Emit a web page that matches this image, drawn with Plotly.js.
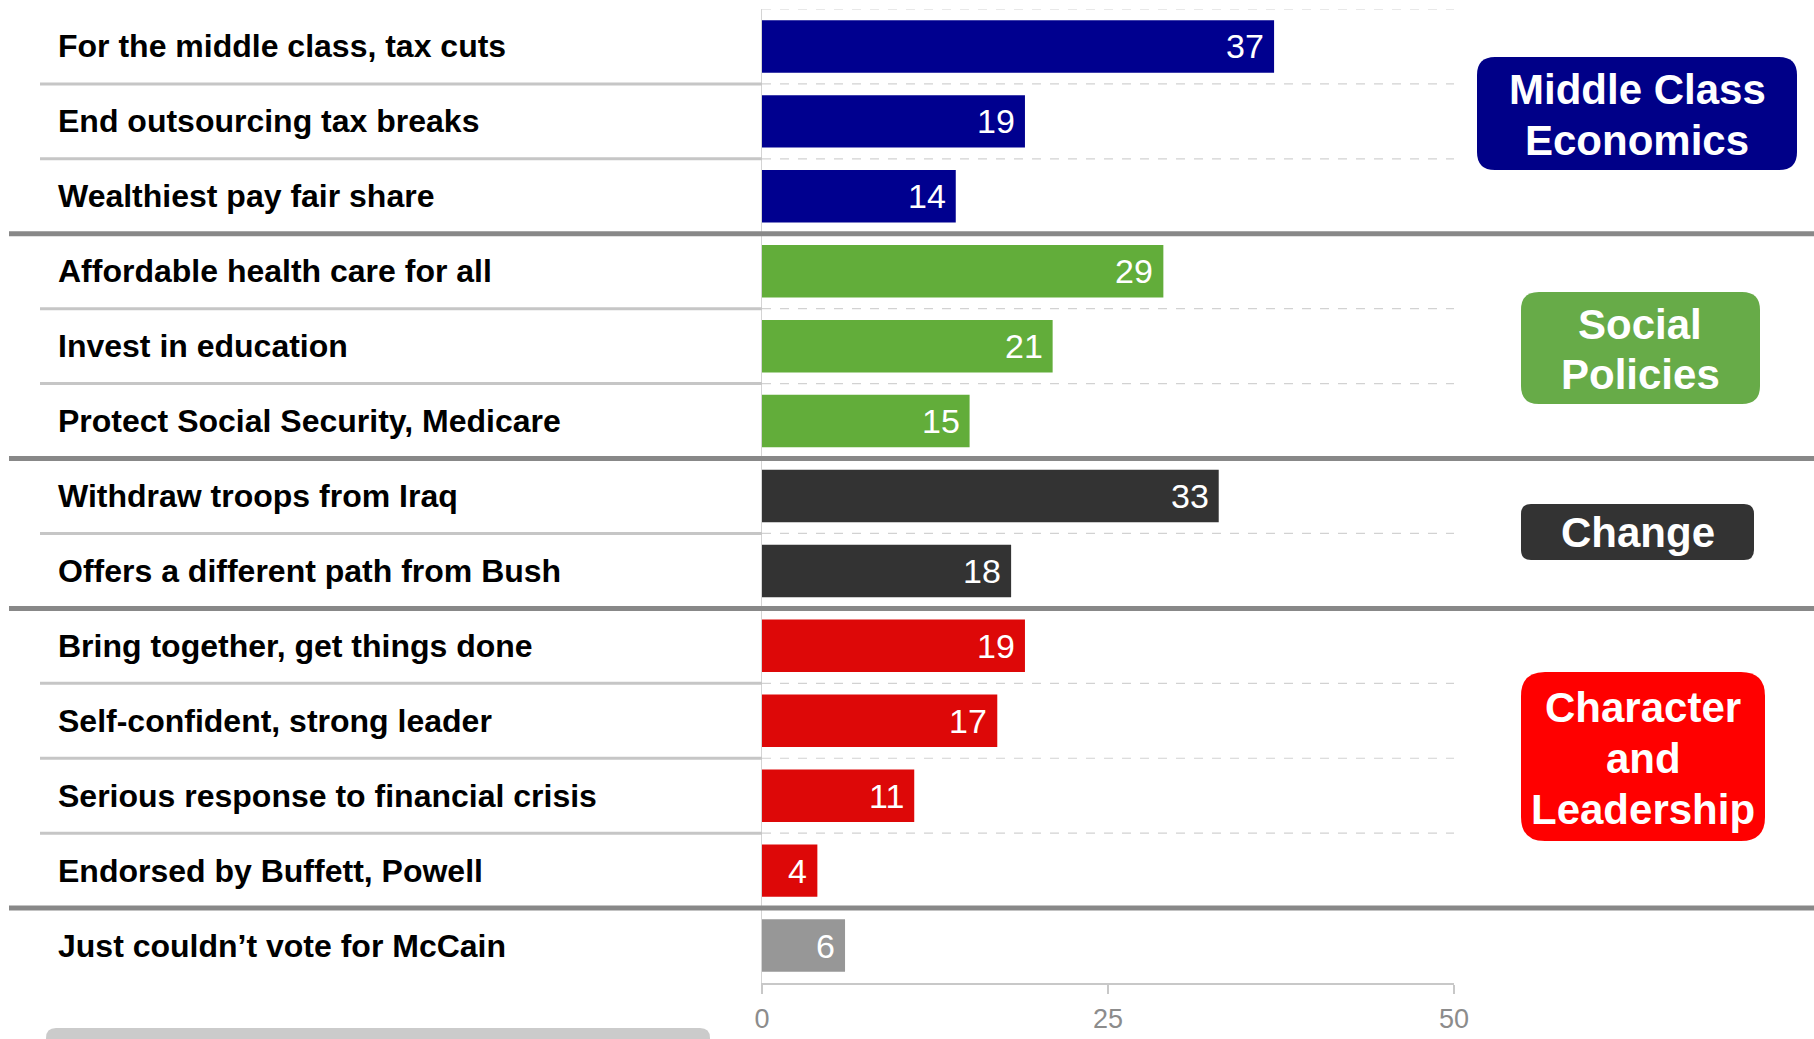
<!DOCTYPE html>
<html><head><meta charset="utf-8">
<script src="https://cdn.plot.ly/plotly-3.0.1.min.js"></script>
<style>html,body{margin:0;padding:0;background:#fff;overflow:hidden;} #chart{width:1814px;height:1039px;}</style>
</head><body><div id="chart"></div>
<script>
const categories = [
  "For the middle class, tax cuts",
  "End outsourcing tax breaks",
  "Wealthiest pay fair share",
  "Affordable health care for all",
  "Invest in education",
  "Protect Social Security, Medicare",
  "Withdraw troops from Iraq",
  "Offers a different path from Bush",
  "Bring together, get things done",
  "Self-confident, strong leader",
  "Serious response to financial crisis",
  "Endorsed by Buffett, Powell",
  "Just couldn’t vote for McCain"
];
const values = [37, 19, 14, 29, 21, 15, 33, 18, 19, 17, 11, 4, 6];
const groups = ["mce","mce","mce","soc","soc","soc","chg","chg","chr","chr","chr","chr","oth"];
const groupTitles = {
  mce: ["Middle Class", "Economics"],
  soc: ["Social", "Policies"],
  chg: ["Change"],
  chr: ["Character", "and", "Leadership"]
};
const tickValues = [0, 25, 50];
const tickLabels = ["0", "25", "50"];

const barColors = {mce:"#00008f", soc:"#62ad3a", chg:"#333333", chr:"#dd0808", oth:"#979797"};
const badgeColors = {mce:"#000088", soc:"#67ab48", chg:"#333333", chr:"#ff0000"};

// plot-area geometry in pixels
const W = 1814, H = 1039;
const PL = 762, PR = 1454, PT = 9, PB = 983;
const X = px => (px - PL) / (PR - PL);
const Y = py => (PB - py) / (PB - PT);
const FONT = "Liberation Sans, Arial, sans-serif";

function roundRect(x0, y0, x1, y1, r) {
  const p = (x, y) => X(x).toFixed(5) + "," + Y(y).toFixed(5);
  return "M" + p(x0 + r, y0) + " L" + p(x1 - r, y0) + " Q" + p(x1, y0) + " " + p(x1, y0 + r) +
    " L" + p(x1, y1 - r) + " Q" + p(x1, y1) + " " + p(x1 - r, y1) +
    " L" + p(x0 + r, y1) + " Q" + p(x0, y1) + " " + p(x0, y1 - r) +
    " L" + p(x0, y0 + r) + " Q" + p(x0, y0) + " " + p(x0 + r, y0) + " Z";
}

const trace = {
  type: "bar",
  orientation: "h",
  x: values,
  y: categories,
  marker: {color: groups.map(g => barColors[g]), line: {width: 0}},
  hoverinfo: "none"
};

const shapes = [];
const annotations = [];

// separators between rows
for (let i = 0; i < categories.length; i++) {
  const b = i - 0.5;
  shapes.push({type: "line", xref: "paper", yref: "y", x0: 0, x1: 1, y0: b, y1: b,
    line: {color: "#d2d2d2", width: 1.2, dash: "dash"}, layer: "below"});
  if (i === 0) continue;
  if (groups[i] !== groups[i - 1]) {
    shapes.push({type: "line", xref: "paper", yref: "y", x0: X(9), x1: X(W), y0: b, y1: b,
      line: {color: "#888888", width: 5}, layer: "above"});
  } else {
    shapes.push({type: "line", xref: "paper", yref: "y", x0: X(40), x1: 0, y0: b, y1: b,
      line: {color: "#c6c6c6", width: 3}, layer: "above"});
  }
}

// category labels
categories.forEach((c, i) => {
  annotations.push({xref: "paper", yref: "y", x: X(56), y: c, text: c, showarrow: false,
    xanchor: "left", yanchor: "middle", yshift: 0,
    font: {family: FONT, size: 32, color: "#000000", weight: "bold"}});
});

// value labels inside bar ends
values.forEach((v, i) => {
  annotations.push({xref: "x", yref: "y", x: v, y: categories[i], text: String(v), showarrow: false,
    xanchor: "right", yanchor: "middle", xshift: -8,
    font: {family: FONT, size: 34, color: "#ffffff"}});
});

// group badges
const badges = [
  {g: "mce", box: [1477, 57, 1797, 170], r: 18, cx: 1637, lines: [89, 140]},
  {g: "soc", box: [1521, 292, 1760, 404], r: 18, cx: 1640, lines: [324, 375]},
  {g: "chg", box: [1521, 504, 1754, 560], r: 10, cx: 1638, lines: [532]},
  {g: "chr", box: [1521, 672, 1765, 841], r: 24, cx: 1643, lines: [707, 758, 809]}
];
badges.forEach(b => {
  shapes.push({type: "path", xref: "paper", yref: "paper",
    path: roundRect(b.box[0], b.box[1], b.box[2], b.box[3], b.r),
    fillcolor: badgeColors[b.g], line: {width: 0}, layer: "above"});
  groupTitles[b.g].forEach((t, k) => {
    annotations.push({xref: "paper", yref: "paper", x: X(b.cx), y: Y(b.lines[k]), text: t,
      showarrow: false, xanchor: "center", yanchor: "middle",
      font: {family: FONT, size: 42, color: "#ffffff", weight: "bold"}});
  });
});

// partially visible footnote box at the bottom
shapes.push({type: "path", xref: "paper", yref: "paper",
  path: roundRect(46, 1028, 710, 1070, 10), fillcolor: "#cbcbcb", line: {width: 0}, layer: "above"});

const layout = {
  width: W, height: H,
  margin: {l: PL, r: W - PR, t: PT, b: H - PB, pad: 0},
  paper_bgcolor: "#ffffff", plot_bgcolor: "#ffffff",
  showlegend: false,
  bargap: 0.3,
  xaxis: {
    range: [0, 50], tickvals: tickValues, ticktext: tickLabels,
    showgrid: false, zeroline: false,
    showline: true, linecolor: "#c8c8c8", linewidth: 2,
    ticks: "outside", ticklen: 9, tickwidth: 2, tickcolor: "#c8c8c8",
    ticklabelstandoff: 2,
    tickfont: {family: FONT, size: 27, color: "#8c8c8c"},
    fixedrange: true
  },
  yaxis: {
    type: "category", categoryorder: "array", categoryarray: categories,
    range: [categories.length - 0.5, -0.5],
    showticklabels: false, ticks: "", showgrid: false, zeroline: false,
    showline: true, linecolor: "#d4d4d4", linewidth: 1,
    fixedrange: true
  },
  shapes: shapes,
  annotations: annotations
};

Plotly.newPlot("chart", [trace], layout, {displayModeBar: false, staticPlot: true});
</script>
</body></html>
